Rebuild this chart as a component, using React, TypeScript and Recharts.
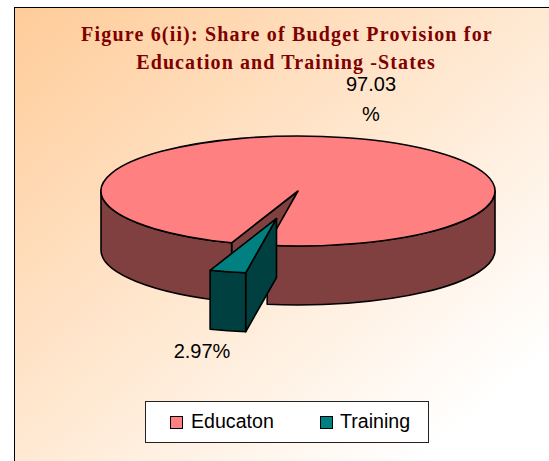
import { PieChart, Pie, Legend } from 'recharts';

const categories = ['Educaton', 'Training'];
const shares = [97.03, 2.97];
const pieLabels = [['97.03', '%'], ['2.97%']];
const topColors = ['#FF8080', '#008080'];
const sideColors = ['#804040', '#004040'];

const data = categories.map((name, i) => ({ name, value: shares[i], fill: topColors[i], side: sideColors[i] }));

// styling of the fake 3D: vertical squash, wall height, pull-out of each slice
const SQUASH = 55 / 197;
const DEPTH = 59;
const slideOut = [[0, 0], [-21.5, 27.5]];
const labelAt = [[371, 91], [202, 358]];

const rad = (a: number) => (a * Math.PI) / 180;

function PieSlice(props: any) {
    const { cx, cy, outerRadius: r, startAngle, endAngle, index, payload } = props;
    const [ox, oy] = slideOut[index];
    const ry = r * SQUASH;
    const px = (a: number) => cx + ox + r * Math.cos(rad(a));
    const py = (a: number, drop = 0) => cy + oy - ry * Math.sin(rad(a)) + drop;
    const mx = cx + ox;
    const my = cy + oy;
    const large = Math.abs(endAngle - startAngle) > 180 ? 1 : 0;

    const top = `M${mx},${my} L${px(startAngle)},${py(startAngle)} A${r},${ry} 0 ${large} 0 ${px(endAngle)},${py(endAngle)} Z`;

    // outer wall only shows on the lower half of the ellipse
    const walls: string[] = [];
    for (const k of [0, 1]) {
        const lo = Math.max(startAngle, 180 + 360 * k);
        const hi = Math.min(endAngle, 360 + 360 * k);
        if (hi > lo) {
            walls.push(
                `M${px(lo)},${py(lo)} A${r},${ry} 0 0 0 ${px(hi)},${py(hi)} L${px(hi)},${py(hi, DEPTH)} A${r},${ry} 0 0 1 ${px(lo)},${py(lo, DEPTH)} Z`
            );
        }
    }

    // cut faces, only the ones that turn towards the viewer
    const cuts: string[] = [];
    const cut = (a: number) =>
        `M${mx},${my} L${px(a)},${py(a)} L${px(a)},${py(a, DEPTH)} L${mx},${my + DEPTH} Z`;
    if (Math.cos(rad(startAngle)) > 0) cuts.push(cut(startAngle));
    if (Math.cos(rad(endAngle)) < 0) cuts.push(cut(endAngle));

    return (
        <g stroke="#000" strokeWidth={1.6} strokeLinejoin="round">
            {cuts.map((d, i) => <path key={`c${i}`} d={d} fill={payload.side} />)}
            {walls.map((d, i) => <path key={`w${i}`} d={d} fill={payload.side} />)}
            <path d={top} fill={payload.fill} />
        </g>
    );
}

function PieLabel(props: any) {
    const { index } = props;
    const [x, y] = labelAt[index];
    const lines = pieLabels[index];
    return (
        <text x={x} y={y} textAnchor="middle" fontFamily="'Liberation Sans', Arial, sans-serif" fontSize={20} fill="#000">
            {lines.map((t, i) => (
                <tspan key={t} x={x} dy={i === 0 ? 0 : 30}>{t}</tspan>
            ))}
        </text>
    );
}

function LegendBox(props: any) {
    const items = props.payload || [];
    return (
        <div style={{ position: 'relative', width: 284, height: 42, boxSizing: 'border-box', background: '#fff', border: '1px solid #222', fontFamily: "'Liberation Sans', Arial, sans-serif", fontSize: 19.6, color: '#000' }}>
            {items.map((it: any, i: number) => (
                <div key={it.value} style={{ position: 'absolute', left: i === 0 ? 24 : 174, top: -1, height: 40, display: 'flex', alignItems: 'center' }}>
                    <span style={{ width: 13, height: 13, boxSizing: 'border-box', background: it.color, border: '1.5px solid #000', marginRight: i === 0 ? 8 : 7, marginTop: 2 }} />
                    <span>{it.value}</span>
                </div>
            ))}
        </div>
    );
}

export default function App() {
    return (
        <div style={{ position: 'absolute', left: 0, top: 0, width: 549, height: 461, overflow: 'hidden', background: '#fff' }}>
            <div style={{ position: 'absolute', left: 14, top: 7, width: 535, height: 454, boxSizing: 'border-box', borderTop: '1.5px solid #000', borderLeft: '1.5px solid #000', background: 'linear-gradient(to bottom right, #FFCC99 0%, #FFFFFF 88%)' }} />
            <div style={{ position: 'absolute', left: 0, top: 0 }}>
                <PieChart width={549} height={461} margin={{ top: 0, right: 0, bottom: 0, left: 0 }}>
                    <text x={287} y={41} textAnchor="middle" fontFamily="'Liberation Serif', 'Times New Roman', serif" fontWeight="bold" fontSize={20} letterSpacing={1.18} fill="#800000">
                        Figure 6(ii): Share of Budget Provision for
                    </text>
                    <text x={286} y={69} textAnchor="middle" fontFamily="'Liberation Serif', 'Times New Roman', serif" fontWeight="bold" fontSize={20} letterSpacing={1.1} fill="#800000">
                        Education and Training -States
                    </text>
                    <Pie
                        data={data}
                        dataKey="value"
                        nameKey="name"
                        cx={298}
                        cy={191}
                        outerRadius={197}
                        startAngle={261}
                        endAngle={621}
                        shape={PieSlice}
                        label={PieLabel}
                        labelLine={false}
                        isAnimationActive={false}
                    />
                    <Legend
                        content={LegendBox}
                        wrapperStyle={{ position: 'absolute', left: 145, top: 401, width: 284, height: 42, bottom: 'auto', right: 'auto' }}
                    />
                </PieChart>
            </div>
        </div>
    );
}
